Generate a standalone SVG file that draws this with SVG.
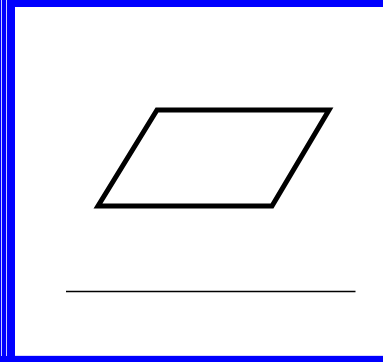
<svg xmlns="http://www.w3.org/2000/svg" width="383" height="362" viewBox="0 0 383 362">
<style>
.b{fill:#0000ff}
.shape{fill:none;stroke:#000;stroke-width:5;stroke-linejoin:miter}
</style>
<rect width="383" height="362" fill="#fff"/>
<g id="border">
<rect class="b" x="0" y="0" width="1.2" height="362"/>
<rect class="b" x="2" y="0" width="4.2" height="362"/>
<rect class="b" x="7" y="0" width="8" height="362"/>
<rect class="b" x="7" y="0" width="376" height="7"/>
<rect class="b" x="0" y="356" width="383" height="6"/>
<rect x="15" y="355" width="368" height="1" fill="#0000ff" opacity="0.15"/>
</g>
<g id="parallelogram">
<polygon class="shape" points="157,110 329,110 272,206 98,206"/>
</g>
<g id="line">
<line x1="66" y1="291.5" x2="355.5" y2="291.5" stroke="#000" stroke-width="1.5"/>
</g>
</svg>
